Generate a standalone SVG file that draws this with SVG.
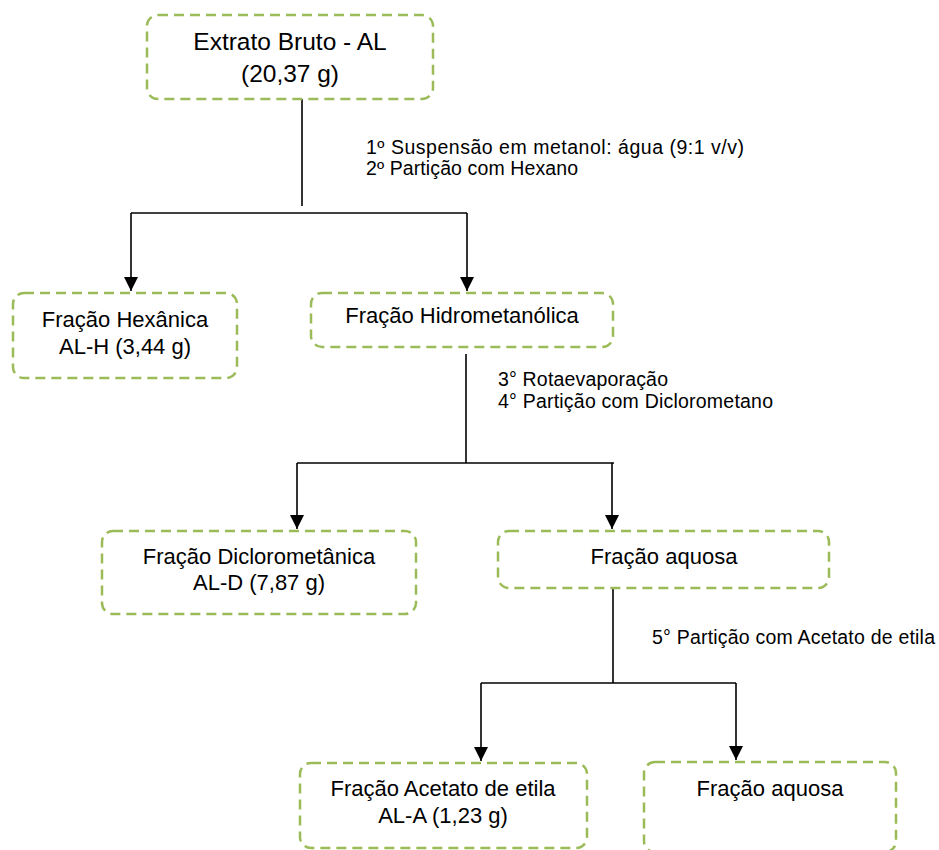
<svg xmlns="http://www.w3.org/2000/svg" width="939" height="850" viewBox="0 0 939 850">
<defs>
<style>
.box{fill:#ffffff;stroke:#9bbb59;stroke-width:2.5;stroke-dasharray:10 6}
.t{font-family:"Liberation Sans",Arial,sans-serif;font-size:22px;fill:#000;text-anchor:middle}
.tb{font-size:24.5px}
.lbl{font-family:"Liberation Sans",Arial,sans-serif;font-size:19.5px;fill:#000}
.ln{fill:none;stroke:#000;stroke-width:1.6}
</style>
<marker id="ah" viewBox="0 0 14 14" refX="14" refY="7" markerWidth="14" markerHeight="14" markerUnits="userSpaceOnUse" orient="auto">
<path d="M0,0 L14,7 L0,14 Z" fill="#000"/>
</marker>
</defs>
<rect width="939" height="850" fill="#fff"/>
<g id="connectors">
<path class="ln" d="M302,99 V206"/>
<path class="ln" d="M131,213 H467"/>
<path class="ln" d="M131,213 V291" marker-end="url(#ah)"/>
<path class="ln" d="M467,213 V291" marker-end="url(#ah)"/>
<path class="ln" d="M466,354 V463"/>
<path class="ln" d="M297,463 H614"/>
<path class="ln" d="M297,463 V529" marker-end="url(#ah)"/>
<path class="ln" d="M612,463 V529" marker-end="url(#ah)"/>
<path class="ln" d="M613,588 V683"/>
<path class="ln" d="M481,683 H736"/>
<path class="ln" d="M481,683 V761" marker-end="url(#ah)"/>
<path class="ln" d="M736,683 V760" marker-end="url(#ah)"/>
</g>
<g id="labels">
<text class="lbl" x="366" y="154" textLength="378" lengthAdjust="spacing">1º Suspensão em metanol: água (9:1 v/v)</text>
<text class="lbl" x="366" y="175" textLength="212" lengthAdjust="spacing">2º Partição com Hexano</text>
<text class="lbl" x="498" y="386" textLength="170" lengthAdjust="spacing">3° Rotaevaporação</text>
<text class="lbl" x="498" y="408" textLength="275" lengthAdjust="spacing">4° Partição com Diclorometano</text>
<text class="lbl" x="652" y="644" textLength="283" lengthAdjust="spacing">5° Partição com Acetato de etila</text>
</g>
<g id="node-extrato">
<rect class="box" x="147" y="15" width="286" height="84" rx="11"/>
<text class="t tb" x="290" y="50">Extrato Bruto - AL</text>
<text class="t tb" x="290" y="82">(20,37 g)</text>
</g>
<g id="node-hexanica">
<rect class="box" x="13" y="293" width="224" height="85" rx="11"/>
<text class="t" x="125" y="327">Fração Hexânica</text>
<text class="t" x="125" y="354">AL-H (3,44 g)</text>
</g>
<g id="node-hidrometanolica">
<rect class="box" x="311" y="293" width="302" height="54" rx="11"/>
<text class="t" x="462" y="323">Fração Hidrometanólica</text>
</g>
<g id="node-diclorometanica">
<rect class="box" x="102" y="531" width="314" height="83" rx="11"/>
<text class="t" x="259" y="564">Fração Diclorometânica</text>
<text class="t" x="259" y="590">AL-D (7,87 g)</text>
</g>
<g id="node-aquosa1">
<rect class="box" x="498" y="531" width="331" height="57" rx="11"/>
<text class="t" x="664" y="564">Fração aquosa</text>
</g>
<g id="node-acetato">
<rect class="box" x="300" y="763" width="287" height="85" rx="11"/>
<text class="t" x="443" y="796">Fração Acetato de etila</text>
<text class="t" x="443" y="823">AL-A (1,23 g)</text>
</g>
<g id="node-aquosa2">
<rect class="box" x="644" y="762" width="252" height="90" rx="11"/>
<text class="t" x="770" y="796">Fração aquosa</text>
</g>
</svg>
